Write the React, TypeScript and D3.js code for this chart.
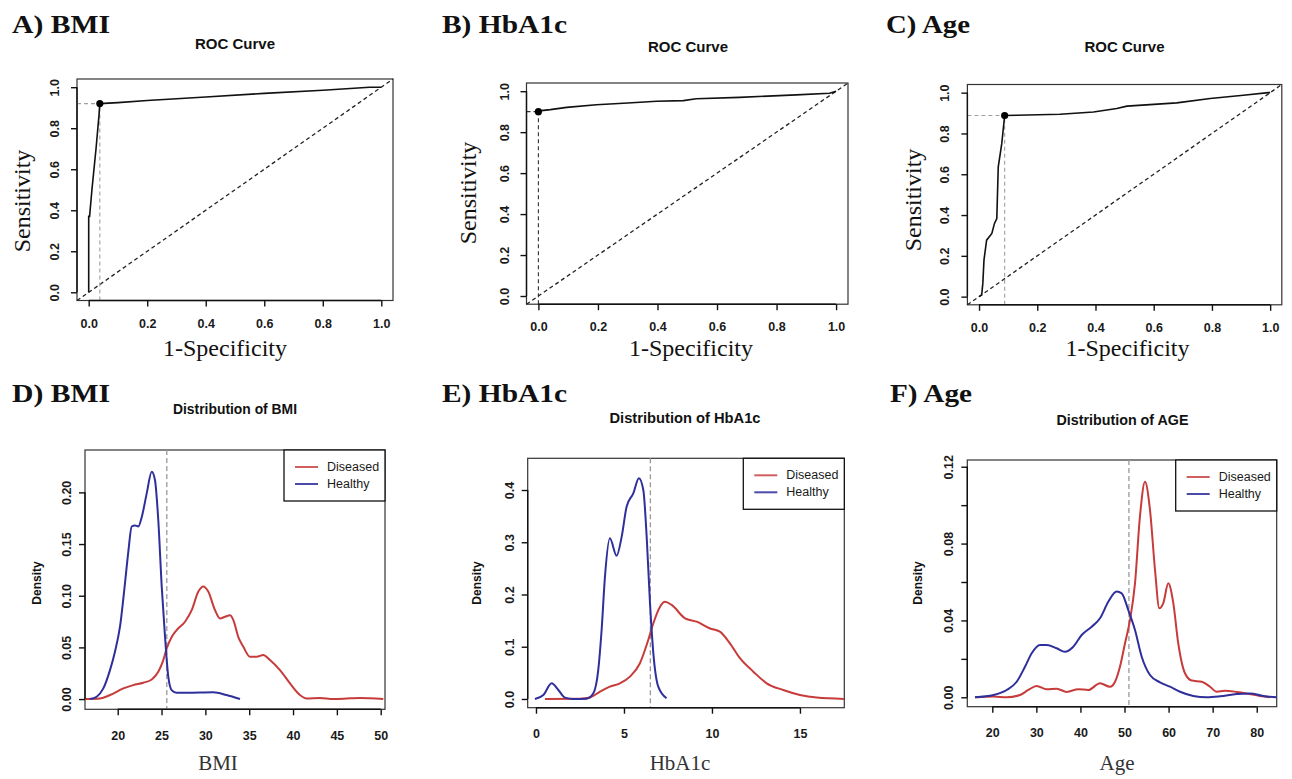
import React, { useEffect, useRef } from 'react'
import * as d3 from 'd3'

/* page size and fonts */
const W = 1292
const H = 779
const serif = '"Liberation Serif", "Times New Roman", serif'
const sans = '"Liberation Sans", Arial, Helvetica, sans-serif'

/* colours */
const red = '#c73b3b'
const blue = '#2f2f9c'

/* ---------- ROC data (1-specificity, sensitivity) ---------- */
const rocBmiFpr = [0, 0, 0.003, 0.011, 0.025, 0.035, 0.038, 0.1, 0.2, 0.4, 0.6, 0.8, 0.96, 1]
const rocBmiTpr = [0, 0.37, 0.37, 0.5, 0.7, 0.86, 0.92, 0.925, 0.935, 0.952, 0.97, 0.985, 1, 1]
const rocBmiCut = [0.038, 0.92]

const rocHbFpr = [0, 0.01, 0.04, 0.095, 0.195, 0.3, 0.397, 0.487, 0.53, 0.676, 0.866, 0.978, 1]
const rocHbTpr = [0.9, 0.905, 0.91, 0.921, 0.934, 0.942, 0.951, 0.954, 0.963, 0.97, 0.982, 0.99, 1]
const rocHbCut = [0, 0.9]

const rocAgeFpr = [0, 0.009, 0.013, 0.017, 0.026, 0.044, 0.053, 0.061, 0.066, 0.078, 0.088, 0.13, 0.278, 0.393, 0.473, 0.508, 0.679, 0.794, 0.908, 0.994, 1]
const rocAgeTpr = [0, 0.008, 0.065, 0.18, 0.277, 0.31, 0.359, 0.383, 0.636, 0.75, 0.888, 0.889, 0.894, 0.905, 0.922, 0.934, 0.95, 0.971, 0.987, 1, 1]
const rocAgeCut = [0.088, 0.888]

const rocTicks = [0, 0.2, 0.4, 0.6, 0.8, 1]

/* ---------- density data ---------- */
const bmiHealthyX = [16.84, 17.6, 18.36, 19.12, 19.69, 20.26, 20.83, 21.21, 21.6, 21.97, 22.35, 22.74, 23.31, 23.88, 24.25, 24.63, 25.02, 25.4, 25.77, 26.15, 26.73, 27.87, 30.9, 32.4, 33.95]
const bmiHealthyY = [0, 0.0023, 0.0103, 0.028, 0.0458, 0.07, 0.112, 0.1425, 0.167, 0.168, 0.167, 0.176, 0.199, 0.22, 0.212, 0.173, 0.109, 0.06, 0.0216, 0.0087, 0.006, 0.006, 0.0065, 0.0039, 0]
const bmiDiseasedX = [16.27, 17.98, 19.12, 20.64, 21.78, 22.92, 23.88, 24.63, 25.2, 25.59, 26.16, 26.73, 27.68, 28.44, 29.2, 29.77, 30.33, 31.1, 31.67, 32.24, 32.81, 33.19, 33.76, 34.33, 35.09, 35.85, 36.6, 37.37, 38.51, 39.65, 40.79, 41.55, 43.07, 44.59, 46.5, 47.6, 50.3]
const bmiDiseasedY = [0, 0.0006, 0.0039, 0.0103, 0.0135, 0.0158, 0.019, 0.0264, 0.0377, 0.049, 0.06, 0.0668, 0.0748, 0.086, 0.104, 0.109, 0.104, 0.086, 0.078, 0.0796, 0.081, 0.0764, 0.06, 0.0506, 0.041, 0.041, 0.0426, 0.0377, 0.028, 0.0152, 0.0039, 0.0006, 0.001, 0, 0.0007, 0.001, 0]
const bmiCutoff = 25.6
const bmiXTicks = [20, 25, 30, 35, 40, 45, 50]
const bmiYTicks = [0, 0.05, 0.1, 0.15, 0.2]

const hbHealthyX = [-0.06, 0.42, 0.89, 1.27, 1.65, 2.12, 2.88, 3.26, 3.54, 3.73, 3.92, 4.2, 4.58, 4.87, 5.15, 5.53, 5.85, 6.1, 6.29, 6.48, 6.67, 6.95, 7.42]
const hbHealthyY = [0, 0.0077, 0.03, 0.0172, 0.0026, 0, 0.0006, 0.0108, 0.0555, 0.132, 0.234, 0.3075, 0.274, 0.3107, 0.368, 0.3936, 0.4224, 0.4, 0.3107, 0.183, 0.0874, 0.0235, 0.0013]
const hbDiseasedX = [0.51, 2.5, 3.07, 3.64, 4.2, 4.77, 5.34, 5.9, 6.38, 6.67, 7.05, 7.33, 7.71, 8.47, 9.13, 9.89, 10.45, 11.02, 11.59, 12.35, 13.11, 14.05, 15, 15.95, 17.5]
const hbDiseasedY = [0, 0.0006, 0.003, 0.014, 0.0235, 0.03, 0.0427, 0.068, 0.113, 0.145, 0.1767, 0.1862, 0.18, 0.1544, 0.148, 0.135, 0.1288, 0.1066, 0.078, 0.0523, 0.03, 0.0172, 0.0077, 0.0026, 0]
const hbCutoff = 6.5
const hbXTicks = [0, 5, 10, 15]
const hbYTicks = [0, 0.1, 0.2, 0.3, 0.4]

const ageHealthyX = [16.07, 20.3, 23.27, 25.54, 27.42, 28.94, 30.82, 32.35, 34.6, 36.5, 38.38, 40.28, 42.55, 44.44, 46.32, 48.22, 49.36, 50.86, 52.38, 53.9, 55.78, 58.05, 60.32, 62.6, 65.6, 68.65, 71.67, 75.45, 78.47, 81.5, 84.5]
const ageHealthyY = [0, 0.0012, 0.0038, 0.0081, 0.0159, 0.0229, 0.0272, 0.0272, 0.0255, 0.0237, 0.0263, 0.0324, 0.0367, 0.0411, 0.0497, 0.055, 0.0541, 0.0454, 0.035, 0.0211, 0.0116, 0.0078, 0.0055, 0.0029, 0.0007, 0, 0.0005, 0.0017, 0.002, 0.0007, 0]
const ageDiseasedX = [16.07, 20.3, 23.27, 26.3, 28.17, 30.07, 32.35, 34.6, 36.88, 39.52, 41.8, 44.44, 46.71, 47.85, 48.98, 50.1, 51.24, 52.38, 53.5, 54.65, 55.78, 56.92, 57.9, 58.8, 59.93, 61.07, 62.2, 63.72, 65.24, 67.5, 69.4, 70.9, 72.8, 75.45, 77.7, 80.7, 83]
const ageDiseasedY = [0, 0.0004, 0, 0.0012, 0.0038, 0.0059, 0.0042, 0.0045, 0.0028, 0.0042, 0.0038, 0.0073, 0.0055, 0.0081, 0.016, 0.028, 0.0402, 0.0593, 0.094, 0.1122, 0.0975, 0.0663, 0.0463, 0.049, 0.0593, 0.049, 0.028, 0.0125, 0.0087, 0.0081, 0.0055, 0.0029, 0.0034, 0.0028, 0.002, 0.0007, 0]
const ageCutoff = 51
const ageXTicks = [20, 30, 40, 50, 60, 70, 80]
const ageYTicks = [0, 0.02, 0.04, 0.06, 0.08, 0.1, 0.12]
const ageYLabelled = [0, 0.04, 0.08, 0.12]

const legendLabels = ['Diseased', 'Healthy']

/* ---------- axis drawn through d3 axis + ref ---------- */
function Axis({ scale, side, at, ticks, fmt, labelOffset }: any) {
    const ref = useRef<SVGGElement>(null)
    useEffect(() => {
        if (!ref.current) return
        const g = d3.select(ref.current)
        g.selectAll('*').remove()
        const axis = (side === 'bottom' ? d3.axisBottom(scale) : d3.axisLeft(scale))
            .tickValues(ticks)
            .tickSize(6)
            .tickSizeOuter(0)
            .tickFormat(fmt)
        g.call(axis as any)
        g.select('.domain').remove()
        g.selectAll('line').attr('stroke', '#111').attr('stroke-width', 1.4)
        const r0 = scale(ticks[0])
        const r1 = scale(ticks[ticks.length - 1])
        const text = g
            .selectAll('text')
            .attr('fill', '#1a1a1a')
            .style('font-family', sans)
            .style('font-weight', 'bold')
            .style('font-size', '12.5px')
        if (side === 'bottom') {
            g.append('line').attr('x1', r0).attr('x2', r1).attr('stroke', '#111').attr('stroke-width', 1.4)
            text.attr('dy', null).attr('y', labelOffset)
        } else {
            g.append('line').attr('y1', r0).attr('y2', r1).attr('stroke', '#111').attr('stroke-width', 1.4)
            /* each tick group is already translated to its y, so only shift left and rotate */
            text
                .attr('dy', null)
                .attr('x', 0)
                .attr('y', 0)
                .attr('text-anchor', 'middle')
                .attr('transform', `translate(${-labelOffset},0) rotate(-90)`)
        }
    })
    const t = side === 'bottom' ? `translate(0,${at})` : `translate(${at},0)`
    return <g ref={ref} transform={t} />
}

/* ---------- panel label (A), B) ...) ---------- */
function PanelLabel({ text, x, y, len }: any) {
    return (
        <text x={x} y={y} fontFamily={serif} fontWeight="bold" fontSize={26} textLength={len} lengthAdjust="spacingAndGlyphs" fill="#111">
            {text}
        </text>
    )
}

/* ---------- ROC panel ---------- */
function RocPanel({ cfg }: any) {
    const { box, fpr, tpr, cut, guide } = cfg
    const x = d3.scaleLinear().domain([-0.04, 1.04]).range([box.left, box.right])
    const y = d3.scaleLinear().domain([-0.04, 1.04]).range([box.bottom, box.top])
    const line = d3
        .line<[number, number]>()
        .x((d) => x(d[0]))
        .y((d) => y(d[1]))
    const pts = d3.zip(fpr, tpr) as [number, number][]
    const fmt = (d: number) => d.toFixed(1)
    return (
        <g>
            <PanelLabel text={cfg.label} x={cfg.labelX} y={33} len={cfg.labelLen} />
            <text x={cfg.titleX} y={cfg.titleY} textAnchor="middle" fontFamily={sans} fontWeight="bold" fontSize={15} fill="#111">
                ROC Curve
            </text>
            <rect x={box.left} y={box.top} width={box.right - box.left} height={box.bottom - box.top} fill="none" stroke="#333" strokeWidth={1.2} />
            {/* chance line */}
            <line x1={x(-0.04)} y1={y(-0.04)} x2={x(1.04)} y2={y(1.04)} stroke="#222" strokeWidth={1.3} strokeDasharray="4,3" />
            {/* best threshold guides */}
            <line x1={box.left} y1={y(cut[1])} x2={x(cut[0])} y2={y(cut[1])} stroke={guide} strokeWidth={1.1} strokeDasharray="4,3" />
            <line x1={x(cut[0])} y1={box.bottom} x2={x(cut[0])} y2={y(cut[1])} stroke={guide} strokeWidth={1.1} strokeDasharray="4,3" />
            <path d={line(pts) as string} fill="none" stroke="#111" strokeWidth={1.6} />
            <circle cx={x(cut[0])} cy={y(cut[1])} r={3.6} fill="#000" />
            <Axis scale={x} side="bottom" at={box.bottom} ticks={rocTicks} fmt={fmt} labelOffset={27} />
            <Axis scale={y} side="left" at={box.left} ticks={rocTicks} fmt={fmt} labelOffset={18} />
            <text transform={`translate(${cfg.ylabX},${cfg.ylabY}) rotate(-90)`} textAnchor="middle" dominantBaseline="central" fontFamily={serif} fontSize={24} fill="#111">
                Sensitivity
            </text>
            <text x={cfg.xlabX} y={cfg.xlabY} textAnchor="middle" fontFamily={serif} fontSize={24} fill="#111">
                1-Specificity
            </text>
        </g>
    )
}

/* ---------- density panel ---------- */
function DensityPanel({ cfg }: any) {
    const { box } = cfg
    const x = d3.scaleLinear().domain(cfg.xDomain).range([box.left, box.right])
    const y = d3.scaleLinear().domain(cfg.yDomain).range([box.bottom, box.top])
    const line = d3
        .line<[number, number]>()
        .x((d) => x(d[0]))
        .y((d) => y(d[1]))
        .curve(d3.curveMonotoneX)
    const diseased = d3.zip(cfg.dx, cfg.dy) as [number, number][]
    const healthy = d3.zip(cfg.hx, cfg.hy) as [number, number][]
    const lw = 101
    const lh = 51
    const lx = box.right - lw
    const ly = box.top
    return (
        <g>
            <PanelLabel text={cfg.label} x={cfg.labelX} y={401.7} len={cfg.labelLen} />
            <text x={cfg.titleX} y={cfg.titleY} textAnchor="middle" fontFamily={sans} fontWeight="bold" fontSize={15} textLength={cfg.titleLen} lengthAdjust="spacingAndGlyphs" fill="#111">
                {cfg.title}
            </text>
            <rect x={box.left} y={box.top} width={box.right - box.left} height={box.bottom - box.top} fill="none" stroke="#333" strokeWidth={1.2} />
            <line x1={x(cfg.cutoff)} y1={box.top} x2={x(cfg.cutoff)} y2={box.bottom} stroke="#999" strokeWidth={1.3} strokeDasharray="5,3" />
            <path d={line(diseased) as string} fill="none" stroke={red} strokeWidth={2} />
            <path d={line(healthy) as string} fill="none" stroke={blue} strokeWidth={2} />
            {/* legend */}
            <rect x={lx} y={ly} width={lw} height={lh} fill="#fff" stroke="#111" strokeWidth={1.3} />
            {legendLabels.map((name, i) => (
                <g key={name}>
                    <line x1={lx + 11} x2={lx + 34} y1={ly + 17 + i * 17} y2={ly + 17 + i * 17} stroke={i === 0 ? '#d06060' : '#4a4aa8'} strokeWidth={2} />
                    <text x={lx + 43} y={ly + 17 + i * 17} dominantBaseline="central" fontFamily={sans} fontSize={12.5} fill="#1a1a1a">
                        {name}
                    </text>
                </g>
            ))}
            <Axis scale={x} side="bottom" at={box.bottom} ticks={cfg.xTicks} fmt={(d: number) => String(d)} labelOffset={30.5} />
            <Axis scale={y} side="left" at={box.left} ticks={cfg.yTicks} fmt={cfg.yFmt} labelOffset={14} />
            <text transform={`translate(${cfg.ylabX},583) rotate(-90)`} textAnchor="middle" dominantBaseline="central" fontFamily={sans} fontWeight="bold" fontSize={12} fill="#111">
                Density
            </text>
            <text x={cfg.xlabX} y={770} textAnchor="middle" fontFamily={serif} fontSize={21} fill="#333">
                {cfg.xlab}
            </text>
        </g>
    )
}

const rocPanels = [
    {
        label: 'A) BMI', labelX: 12, labelLen: 98,
        titleX: 235, titleY: 48.5,
        box: { left: 77, right: 393, top: 79, bottom: 300.5 },
        fpr: rocBmiFpr, tpr: rocBmiTpr, cut: rocBmiCut, guide: '#a0a0a0',
        ylabX: 22, ylabY: 201, xlabX: 225, xlabY: 356,
    },
    {
        label: 'B) HbA1c', labelX: 442, labelLen: 125,
        title: 'ROC Curve', titleX: 688, titleY: 51.5,
        box: { left: 526.5, right: 848, top: 83, bottom: 304.2 },
        fpr: rocHbFpr, tpr: rocHbTpr, cut: rocHbCut, guide: '#333',
        ylabX: 468, ylabY: 193, xlabX: 691, xlabY: 356,
    },
    {
        label: 'C) Age', labelX: 886, labelLen: 84,
        titleX: 1124.5, titleY: 52,
        box: { left: 967.4, right: 1281.8, top: 84.5, bottom: 304.8 },
        fpr: rocAgeFpr, tpr: rocAgeTpr, cut: rocAgeCut, guide: '#a0a0a0',
        ylabX: 912.5, ylabY: 200, xlabX: 1127.5, xlabY: 356,
    },
]

const densityPanels = [
    {
        label: 'D) BMI', labelX: 12, labelLen: 98,
        title: 'Distribution of BMI', titleX: 235, titleY: 413.5, titleLen: 124,
        box: { left: 85, right: 385, top: 450, bottom: 709.3 },
        xDomain: [16.27, 50.49], yDomain: [-0.0099, 0.241],
        dx: bmiDiseasedX, dy: bmiDiseasedY, hx: bmiHealthyX, hy: bmiHealthyY,
        cutoff: bmiCutoff, xTicks: bmiXTicks, yTicks: bmiYTicks,
        yFmt: (d: number) => d.toFixed(2),
        ylabX: 37, xlabX: 218, xlab: 'BMI',
    },
    {
        label: 'E) HbA1c', labelX: 442, labelLen: 125,
        title: 'Distribution of HbA1c', titleX: 685, titleY: 423, titleLen: 151,
        box: { left: 527.7, right: 844.3, top: 458.3, bottom: 707.7 },
        xDomain: [-0.47, 17.52], yDomain: [-0.0167, 0.4607],
        dx: hbDiseasedX, dy: hbDiseasedY, hx: hbHealthyX, hy: hbHealthyY,
        cutoff: hbCutoff, xTicks: hbXTicks, yTicks: hbYTicks,
        yFmt: (d: number) => d.toFixed(1),
        ylabX: 477, xlabX: 680, xlab: 'HbA1c',
    },
    {
        label: 'F) Age', labelX: 890, labelLen: 82,
        title: 'Distribution of AGE', titleX: 1122.5, titleY: 425, titleLen: 132,
        box: { left: 967.3, right: 1276.7, top: 460, bottom: 706.7 },
        xDomain: [14.33, 84.53], yDomain: [-0.0049, 0.1235],
        dx: ageDiseasedX, dy: ageDiseasedY, hx: ageHealthyX, hy: ageHealthyY,
        cutoff: ageCutoff, xTicks: ageXTicks, yTicks: ageYTicks,
        yFmt: (d: number) => (ageYLabelled.some((v) => Math.abs(v - d) < 1e-9) ? d.toFixed(2) : ''),
        ylabX: 917.5, xlabX: 1117, xlab: 'Age',
    },
]

export default function App() {
    return (
        <svg width={W} height={H} style={{ position: 'absolute', left: 0, top: 0, background: '#fff' }}>
            <rect width={W} height={H} fill="#fff" />
            {rocPanels.map((p) => (
                <RocPanel key={p.label} cfg={p} />
            ))}
            {densityPanels.map((p) => (
                <DensityPanel key={p.label} cfg={p} />
            ))}
        </svg>
    )
}
